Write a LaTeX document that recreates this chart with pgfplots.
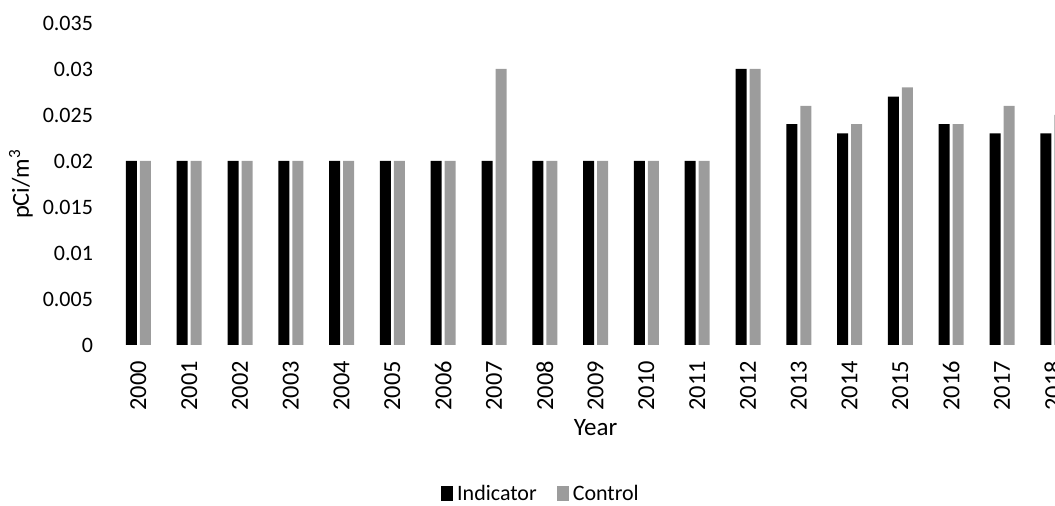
\documentclass[border=0pt]{standalone}
\usepackage{fontspec}
\setmainfont{Carlito}
\usepackage{pgfplots}
\pgfplotsset{compat=1.18}
\definecolor{ctrlgray}{HTML}{9C9C9C}

\begin{document}
\begin{tikzpicture}[font=\fontsize{11}{13}\selectfont]
\begin{axis}[
  scale only axis,
  width=482.6pt, height=161pt,
  xmin=-0.5, xmax=18.5,
  ymin=0, ymax=0.035,
  ybar, bar width=5.5pt,
  axis line style={draw=none},
  xtick={0,...,18},
  xticklabels={2000,2001,2002,2003,2004,2005,2006,2007,2008,2009,2010,2011,2012,2013,2014,2015,2016,2017,2018},
  ytick={0,0.005,0.01,0.015,0.02,0.025,0.03,0.035},
  yticklabels={0,0.005,0.01,0.015,0.02,0.025,0.03,0.035},
  scaled y ticks=false,
  major tick length=0pt,
  tick style={draw=none},
  xticklabel style={rotate=90, anchor=east, xshift=-4.5pt, font=\fontsize{12.2}{14}\selectfont},
  yticklabel style={anchor=east, xshift=-6.5pt},
  /pgf/number format/assume math mode=true,
  xlabel={Year},
  xlabel style={at={(axis description cs:0.5,0)}, anchor=center, yshift=-41.5pt, font=\fontsize{12.5}{14}\selectfont},
  ylabel={pCi/m\textsuperscript{3}},
  ylabel style={at={(axis description cs:0,0.5)}, anchor=center, yshift=46pt, font=\fontsize{12.2}{14}\selectfont},
  legend style={draw=none, at={(214.5pt,-74.5pt)}, anchor=center, legend columns=2,
    /tikz/every even column/.append style={column sep=8pt}},
  legend image code/.code={\fill[#1] (0pt,-3.5pt) rectangle (6pt,4pt);},
]
\addplot[fill=black, draw=none, bar shift=-3.5pt] coordinates {
  (0,0.02) (1,0.02) (2,0.02) (3,0.02) (4,0.02) (5,0.02) (6,0.02) (7,0.02)
  (8,0.02) (9,0.02) (10,0.02) (11,0.02) (12,0.03) (13,0.024) (14,0.023)
  (15,0.027) (16,0.024) (17,0.023) (18,0.023)
};
\addlegendentry{Indicator}
\addplot[fill=ctrlgray, draw=none, bar shift=3.5pt] coordinates {
  (0,0.02) (1,0.02) (2,0.02) (3,0.02) (4,0.02) (5,0.02) (6,0.02) (7,0.03)
  (8,0.02) (9,0.02) (10,0.02) (11,0.02) (12,0.03) (13,0.026) (14,0.024)
  (15,0.028) (16,0.024) (17,0.026) (18,0.025)
};
\addlegendentry{Control}
\end{axis}
\pgfresetboundingbox
\path[use as bounding box] (-56.5pt,-80.5pt) rectangle (471pt,172.5pt);
\end{tikzpicture}
\end{document}
